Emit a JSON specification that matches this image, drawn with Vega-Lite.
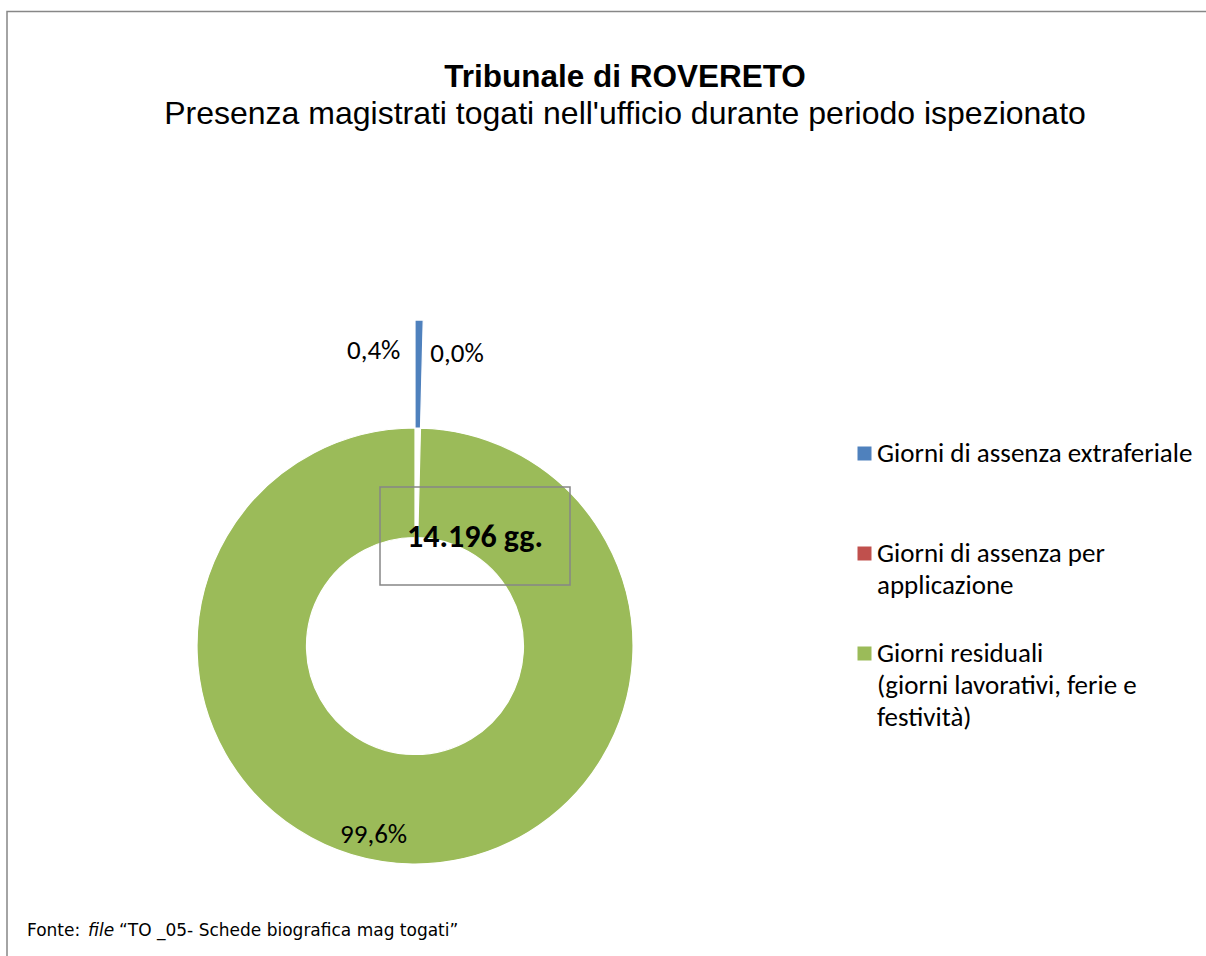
{
  "$schema": "https://vega.github.io/schema/vega-lite/v6.json",
  "width": 436,
  "height": 436,
  "autosize": {"type": "none"},
  "padding": {"left": 197, "top": 428, "right": 573, "bottom": 92},
  "background": "white",
  "config": {
    "view": {"stroke": null},
    "style": {"guide-label": {"lineHeight": 32}},
    "locale": {"number": {"decimal": ",", "thousands": ".", "grouping": [3], "currency": ["", " gg."]}}
  },
  "title": {
    "text": "Tribunale di ROVERETO",
    "subtitle": "Presenza magistrati togati nell'ufficio durante periodo ispezionato",
    "anchor": "middle",
    "frame": "group",
    "dx": 210,
    "offset": -121,
    "font": "Liberation Sans",
    "fontSize": 31.5,
    "fontWeight": "bold",
    "color": "black",
    "subtitleFont": "Liberation Sans",
    "subtitleFontSize": 32,
    "subtitleColor": "black",
    "subtitlePadding": 5
  },
  "data": {
    "values": [
      {"categoria": "Giorni di assenza extraferiale", "giorni": 57, "pct": "0,4%"},
      {"categoria": "Giorni di assenza per applicazione", "giorni": 0, "pct": "0,0%"},
      {"categoria": "Giorni residuali (giorni lavorativi, ferie e festività)", "giorni": 14139, "pct": "99,6%"}
    ]
  },
  "layer": [
    {
      "mark": {"type": "arc", "innerRadius": 108.5, "outerRadius": 218, "stroke": "white", "strokeWidth": 1.2},
      "encoding": {
        "theta": {"field": "giorni", "type": "quantitative", "stack": true},
        "color": {
          "field": "categoria",
          "type": "nominal",
          "scale": {
            "domain": ["Giorni di assenza extraferiale", "Giorni di assenza per applicazione", "Giorni residuali (giorni lavorativi, ferie e festività)"],
            "range": ["#4F81BD", "#C0504D", "#9BBB59"]
          },
          "legend": {
            "title": null,
            "orient": "none",
            "legendX": 654,
            "legendY": 12,
            "padding": 0,
            "symbolType": "square",
            "symbolSize": 196,
            "symbolStrokeWidth": 0,
            "labelFont": "Carlito, Lato",
            "labelFontSize": 27,
            "labelColor": "black",
            "labelOffset": -1,
            "labelLimit": 0,
            "labelBaseline": "middle",
            "rowPadding": 8,
            "labelExpr": "datum.label == 'Giorni di assenza extraferiale' ? ['Giorni di assenza extraferiale', '', ''] : datum.label == 'Giorni di assenza per applicazione' ? ['Giorni di assenza per', 'applicazione', ''] : ['Giorni residuali', '(giorni lavorativi, ferie e', 'festività)']"
          }
        },
        "opacity": {"condition": {"test": "datum.categoria !== 'Giorni di assenza extraferiale'", "value": 1}, "value": 0}
      }
    },
    {
      "mark": {"type": "arc", "innerRadius": 218, "outerRadius": 326, "stroke": "white", "strokeWidth": 1.2},
      "encoding": {
        "theta": {"field": "giorni", "type": "quantitative", "stack": true},
        "color": {"field": "categoria", "type": "nominal"},
        "opacity": {"condition": {"test": "datum.categoria === 'Giorni di assenza extraferiale'", "value": 1}, "value": 0}
      }
    },
    {
      "mark": {"type": "text", "radius": 295, "dx": -45, "dy": 0, "font": "Carlito, Lato", "fontSize": 27, "color": "black"},
      "encoding": {
        "theta": {"field": "giorni", "type": "quantitative", "stack": true},
        "detail": {"field": "categoria"},
        "text": {"condition": {"test": "datum.categoria === 'Giorni di assenza extraferiale'", "field": "pct", "type": "nominal"}, "value": ""}
      }
    },
    {
      "mark": {"type": "text", "radius": 295, "dx": 42, "dy": 3, "font": "Carlito, Lato", "fontSize": 27, "color": "black"},
      "encoding": {
        "theta": {"field": "giorni", "type": "quantitative", "stack": true},
        "detail": {"field": "categoria"},
        "text": {"condition": {"test": "datum.categoria === 'Giorni di assenza per applicazione'", "field": "pct", "type": "nominal"}, "value": ""}
      }
    },
    {
      "mark": {"type": "text", "radius": 190, "dx": -39, "dy": -1, "font": "Carlito, Lato", "fontSize": 27, "color": "black"},
      "encoding": {
        "theta": {"field": "giorni", "type": "quantitative", "stack": true},
        "detail": {"field": "categoria"},
        "text": {"condition": {"test": "datum.categoria === 'Giorni residuali (giorni lavorativi, ferie e festività)'", "field": "pct", "type": "nominal"}, "value": ""}
      }
    },
    {
      "transform": [{"aggregate": [{"op": "sum", "field": "giorni", "as": "totale"}]}],
      "mark": {"type": "point", "shape": "M-1,-0.516L1,-0.516L1,0.516L-1,0.516Z", "size": 36100, "filled": false, "stroke": "#868686", "strokeWidth": 1.5, "opacity": 1, "xOffset": 60, "yOffset": -110},
      "encoding": {}
    },
    {
      "transform": [{"aggregate": [{"op": "sum", "field": "giorni", "as": "totale"}]}],
      "mark": {"type": "text", "font": "Carlito, Lato", "fontWeight": "bold", "fontSize": 32, "color": "black", "dx": 60, "dy": -109},
      "encoding": {"text": {"field": "totale", "type": "quantitative", "format": "$,.0f"}}
    },
    {
      "transform": [{"aggregate": [{"op": "sum", "field": "giorni", "as": "totale"}]}],
      "mark": {"type": "point", "shape": "M791,-634.5L-408,-634.5L-408,310", "size": 4, "filled": false, "stroke": "#878787", "strokeWidth": 1.5, "opacity": 1},
      "encoding": {}
    },
    {
      "transform": [{"aggregate": [{"op": "sum", "field": "giorni", "as": "totale"}]}],
      "mark": {"type": "text", "text": "Fonte: ", "font": "DejaVu Sans", "fontSize": 17, "color": "black", "align": "left", "baseline": "alphabetic", "dx": -388, "dy": 290},
      "encoding": {}
    },
    {
      "transform": [{"aggregate": [{"op": "sum", "field": "giorni", "as": "totale"}]}],
      "mark": {"type": "text", "text": "file", "font": "DejaVu Sans", "fontStyle": "italic", "fontSize": 17, "color": "black", "align": "left", "baseline": "alphabetic", "dx": -327, "dy": 290},
      "encoding": {}
    },
    {
      "transform": [{"aggregate": [{"op": "sum", "field": "giorni", "as": "totale"}]}],
      "mark": {"type": "text", "text": "“TO _05- Schede biografica mag togati”", "font": "DejaVu Sans", "fontSize": 17, "color": "black", "align": "left", "baseline": "alphabetic", "dx": -296, "dy": 290},
      "encoding": {}
    }
  ]
}
